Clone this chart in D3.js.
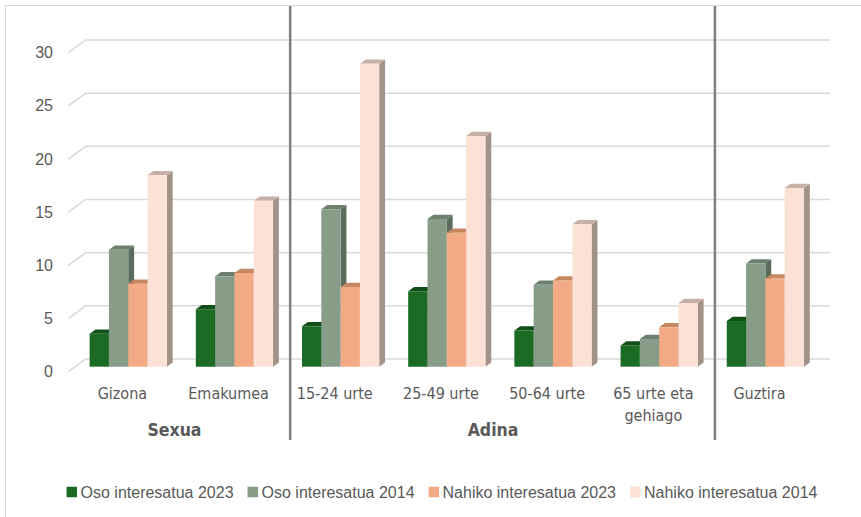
<!DOCTYPE html>
<html>
<head>
<meta charset="utf-8">
<script src="https://cdn.jsdelivr.net/npm/d3@7"></script>
<style>
  html, body { margin: 0; padding: 0; background: #ffffff; }
  svg { display: block; }
</style>
</head>
<body>
<svg id="chart" width="861" height="517"></svg>
<script>
// Categories along the x axis (a "\n" breaks a label into two lines)
const categories = ["Gizona", "Emakumea", "15-24 urte", "25-49 urte", "50-64 urte", "65 urte eta\ngehiago", "Guztira"];
// Second-level grouping of the categories
const groupNames = ["Sexua", "Adina", ""];
const groupSizes = [2, 4, 1];

// Series
const seriesNames = ["Oso interesatua 2023", "Oso interesatua 2014", "Nahiko interesatua 2023", "Nahiko interesatua 2014"];
const osoInteresatua2023 = [3.1, 5.4, 3.8, 7.1, 3.4, 2.0, 4.3];
const osoInteresatua2014 = [11.0, 8.5, 14.8, 13.9, 7.7, 2.6, 9.7];
const nahikoInteresatua2023 = [7.8, 8.8, 7.5, 12.6, 8.1, 3.7, 8.3];
const nahikoInteresatua2014 = [18.0, 15.6, 28.5, 21.7, 13.4, 6.0, 16.8];

// Value axis ticks
const yTicks = [0, 5, 10, 15, 20, 25, 30];

const seriesValues = [osoInteresatua2023, osoInteresatua2014, nahikoInteresatua2023, nahikoInteresatua2014];
const frontColors = ["#1b6b25", "#879d88", "#f2ab84", "#fce1d6"];
const topColors   = ["#124f19", "#6d806e", "#c4875f", "#c7b1a7"];
const sideColors  = ["#0f4315", "#5b6b5c", "#a8765a", "#a3928a"];

const svg = d3.select("#chart");
const textColor = "#595959";
const font = "'Liberation Sans', Arial, sans-serif";
const narrowFont = "'DejaVu Sans Condensed', 'Liberation Sans', sans-serif";

// Chart frame
svg.append("rect").attr("x", 5.5).attr("y", 5.5).attr("width", 900).attr("height", 600)
  .attr("fill", "#fff").attr("stroke", "#d9d9d9").attr("stroke-width", 1);

// Floor front plane and oblique depth vector
const floorLeft = 68.3, floorRight = 811.6;
const depthDX = 17.4, depthDY = -12.7;
const barFrontDepth = 0.394, barBackDepth = 0.73;
const at = (x, y, d) => [x + d * depthDX, y + d * depthDY];

const x0 = d3.scaleBand().domain(categories).range([floorLeft, floorRight]).padding(0);
const x1 = d3.scaleBand().domain(seriesNames).range([0, x0.bandwidth()]).paddingInner(0).paddingOuter(0.75);
const y = d3.scaleLinear().domain([0, 30]).range([371.7, 52.7]);

// Back-wall gridlines and side-wall diagonals
const grid = svg.append("g").attr("stroke", "#d9d9d9").attr("stroke-width", 1.5).attr("fill", "none");
yTicks.forEach(t => {
  const a = at(floorLeft, y(t), 0), b = at(floorLeft, y(t), 1), c = at(floorRight + 1, y(t), 1);
  grid.append("path").attr("d", d3.line()([a, b, c]));
});

// Value axis labels
svg.append("g").selectAll("text").data(yTicks).join("text")
  .attr("x", 53).attr("y", d => y(d)).attr("dy", "0.35em")
  .attr("text-anchor", "end").attr("font-family", font).attr("font-size", 16)
  .attr("fill", textColor).text(d => d);

// 3D columns, drawn left to right so each front face covers the previous side face
const poly = pts => "M" + pts.map(p => p.join(",")).join("L") + "Z";
const bars = svg.append("g");
categories.forEach((cat, ci) => {
  seriesNames.forEach((s, si) => {
    const v = seriesValues[si][ci];
    const xl = x0(cat) + x1(s), xr = xl + x1.bandwidth();
    const yb = y(0), yt = y(v);
    const g = bars.append("g");
    g.append("path").attr("fill", sideColors[si])
      .attr("d", poly([at(xr, yt, barFrontDepth), at(xr, yb, barFrontDepth), at(xr, yb, barBackDepth), at(xr, yt, barBackDepth)]));
    g.append("path").attr("fill", topColors[si])
      .attr("d", poly([at(xl, yt, barFrontDepth), at(xr, yt, barFrontDepth), at(xr, yt, barBackDepth), at(xl, yt, barBackDepth)]));
    g.append("path").attr("fill", frontColors[si])
      .attr("d", poly([at(xl, yt, barFrontDepth), at(xr, yt, barFrontDepth), at(xr, yb, barFrontDepth), at(xl, yb, barFrontDepth)]));
  });
});

// Category labels
const catLabels = svg.append("g");
categories.forEach(cat => {
  const cx = x0(cat) + x0.bandwidth() / 2 + 1;
  const t = catLabels.append("text")
    .attr("x", cx).attr("y", 393)
    .attr("text-anchor", "middle").attr("font-family", narrowFont).attr("font-size", 16)
    .attr("fill", textColor);
  cat.split("\n").forEach((line, i) => {
    t.append("tspan").attr("x", cx).attr("dy", i === 0 ? "0.35em" : 22).text(line);
  });
});

// Group labels and separators
let start = 0;
groupNames.forEach((name, gi) => {
  const first = categories[start], last = categories[start + groupSizes[gi] - 1];
  const cx = (x0(first) + x0(last) + x0.bandwidth()) / 2;
  if (name) {
    svg.append("text").attr("x", cx).attr("y", 430).attr("dy", "0.35em")
      .attr("text-anchor", "middle").attr("font-family", narrowFont).attr("font-weight", "bold")
      .attr("font-size", 17.5).attr("fill", textColor).text(name);
  }
  start += groupSizes[gi];
  if (gi < groupNames.length - 1) {
    const sx = x0(categories[start]) + 9.5;
    svg.append("line").attr("x1", sx).attr("x2", sx).attr("y1", 6).attr("y2", 440)
      .attr("stroke", "#7f7f7f").attr("stroke-width", 2.5);
  }
});

// Legend
const legend = svg.append("g");
const sw = 10.5, gapText = 3.5, gapItem = 14, legendY = 492;
const items = seriesNames.map((s, i) => {
  const g = legend.append("g");
  g.append("rect").attr("width", sw).attr("height", sw).attr("y", legendY - sw / 2).attr("fill", frontColors[i]);
  const t = g.append("text").attr("x", sw + gapText).attr("y", legendY).attr("dy", "0.35em")
    .attr("font-family", font).attr("font-size", 16).attr("fill", textColor).text(s);
  return { g, w: sw + gapText + t.node().getComputedTextLength() };
});
const totalW = d3.sum(items, d => d.w) + gapItem * (items.length - 1);
let lx = 442 - totalW / 2;
items.forEach(it => { it.g.attr("transform", `translate(${lx},0)`); lx += it.w + gapItem; });
</script>
</body>
</html>
